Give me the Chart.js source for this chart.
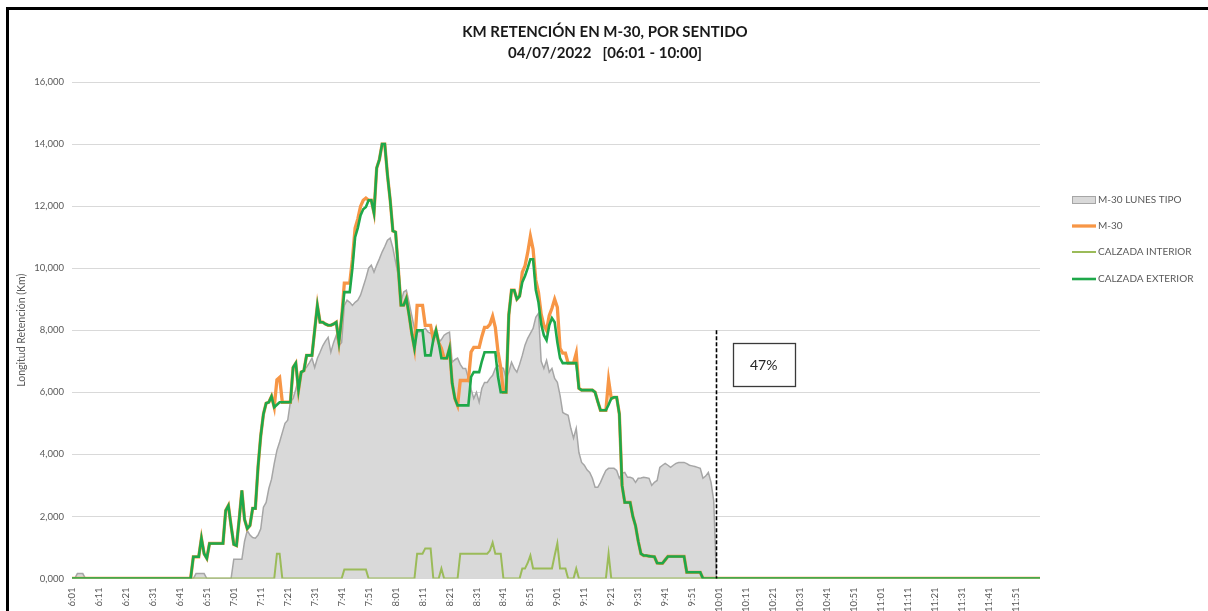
<!DOCTYPE html>
<html><head><meta charset="utf-8">
<script src="https://cdn.jsdelivr.net/npm/chart.js@4.4.1/dist/chart.umd.min.js"></script>
<style>
html,body{margin:0;padding:0;background:#fff;overflow:hidden;}
#wrap{position:relative;width:1208px;height:640px;}
#frame{position:absolute;left:6px;top:7px;right:0;bottom:0;border-top:3px solid #000;border-left:3px solid #000;pointer-events:none;}
canvas{display:block;}
</style></head><body>
<div id="wrap"><canvas id="c" width="1208" height="640" style="width:1208px;height:640px"></canvas><div id="frame"></div></div>
<script>
// ---------- DATA ----------
const titleLines = ['KM RETENCIÓN EN M-30, POR SENTIDO', '04/07/2022   [06:01 - 10:00]'];
const yAxisTitle = 'Longitud Retención (Km)';
const seriesNames = ['M-30 LUNES TIPO', 'M-30', 'CALZADA INTERIOR', 'CALZADA EXTERIOR'];

// one category per minute, 6:01 .. 12:00
const categories = [];
for (let m = 6 * 60 + 1; m <= 12 * 60; m++) {
  categories.push(Math.floor(m / 60) + ':' + String(m % 60).padStart(2, '0'));
}
const tickLabels = ['6:01','6:11','6:21','6:31','6:41','6:51','7:01','7:11','7:21','7:31','7:41','7:51',
  '8:01','8:11','8:21','8:31','8:41','8:51','9:01','9:11','9:21','9:31','9:41','9:51',
  '10:01','10:11','10:21','10:31','10:41','10:51','11:01','11:11','11:21','11:31','11:41','11:51'];

const lunesTipo = [
  0,0,160,160,160,0,0,0,0,0,0,0,0,0,0,0,0,0,0,0,
  0,0,0,0,0,0,0,0,0,0,0,0,0,0,0,0,0,0,0,0,
  0,0,0,0,0,0,160,160,160,160,0,0,0,0,0,0,0,0,0,0,
  620,620,620,620,1200,1550,1400,1320,1300,1400,1600,2300,2450,2900,3200,3700,4130,4400,4700,5000,
  5100,5700,5800,6100,6450,6600,6700,6810,6950,7100,6800,7100,7290,7500,7650,7770,7290,7600,7840,7500,
  7610,8800,8970,8900,8800,8900,8970,9130,9400,9680,10000,10100,9870,10100,10300,10520,10700,10900,10970,10650,
  10200,9780,8900,9230,9290,8900,8480,8060,7940,7950,8000,8060,7950,7900,7940,7800,7610,7700,7840,7900,
  7940,6970,7050,7100,6900,6770,6770,6450,6100,5800,6000,5680,6130,6320,6320,6450,6550,6770,6870,6800,
  6770,6450,6650,6970,6770,6650,6900,7190,7520,7740,7900,8060,8420,8550,7000,6770,7030,6650,6770,6450,
  6320,5900,5350,5300,5260,4840,4520,4840,4060,3740,3650,3500,3420,3230,2940,2940,3100,3300,3480,3550,
  3550,3550,3480,3230,3390,3420,3260,3260,3230,3100,3230,3240,3260,3250,3230,3000,3100,3160,3580,3650,
  3710,3650,3580,3650,3710,3740,3740,3740,3700,3650,3630,3610,3580,3550,3230,3300,3420,3100,2500,0,
  null,null,null,null,null,null,null,null,null,null,null,null,null,null,null,null,null,null,null,null,
  null,null,null,null,null,null,null,null,null,null,null,null,null,null,null,null,null,null,null,null,
  null,null,null,null,null,null,null,null,null,null,null,null,null,null,null,null,null,null,null,null,
  null,null,null,null,null,null,null,null,null,null,null,null,null,null,null,null,null,null,null,null,
  null,null,null,null,null,null,null,null,null,null,null,null,null,null,null,null,null,null,null,null,
  null,null,null,null,null,null,null,null,null,null,null,null,null,null,null,null,null,null,null,null
];

const m30 = [
  0,0,0,0,0,0,0,0,0,0,0,0,0,0,0,0,0,0,0,0,
  0,0,0,0,0,0,0,0,0,0,0,0,0,0,0,0,0,0,0,0,
  0,0,0,0,0,700,700,700,1300,800,650,1130,1130,1130,1130,1130,1130,2190,2350,1700,
  1100,1060,1900,2840,1900,1610,1710,2260,2260,3600,4600,5300,5650,5680,5870,5520,6400,6480,5680,5680,
  5680,5680,6800,6940,6070,6650,6700,7190,7190,7190,8000,8800,8260,8260,8200,8160,8160,8200,8260,7610,
  8400,9520,9520,9520,10290,11290,11590,11990,12190,12260,12190,12190,11780,13230,13500,14000,14000,13000,12200,11200,
  11160,10000,8810,8810,9030,8500,7900,7420,8800,8800,8800,8160,8160,8160,7700,8000,7600,7420,7100,7100,
  7420,6290,5800,5580,6380,6380,6380,6380,7300,7450,7450,7450,7800,8090,8090,8190,8450,8090,7300,6800,
  6000,6000,8500,9290,9290,9000,9100,9870,10070,10500,11030,10610,9620,9220,8520,8160,8000,8480,8710,9000,
  8740,7420,7260,7260,6940,6940,6940,7260,6130,6070,6070,6070,6070,6070,6000,5700,5420,5420,5420,6400,
  5800,5840,5840,5300,3000,2450,2450,2450,2000,1700,1200,800,740,740,720,710,700,500,490,490,
  600,710,710,710,710,710,710,710,200,200,200,200,200,200,0,0,0,0,0,0,
  0,0,0,0,0,0,0,0,0,0,0,0,0,0,0,0,0,0,0,0,
  0,0,0,0,0,0,0,0,0,0,0,0,0,0,0,0,0,0,0,0,
  0,0,0,0,0,0,0,0,0,0,0,0,0,0,0,0,0,0,0,0,
  0,0,0,0,0,0,0,0,0,0,0,0,0,0,0,0,0,0,0,0,
  0,0,0,0,0,0,0,0,0,0,0,0,0,0,0,0,0,0,0,0,
  0,0,0,0,0,0,0,0,0,0,0,0,0,0,0,0,0,0,0,0
];

const calzadaInterior = [
  0,0,0,0,0,0,0,0,0,0,0,0,0,0,0,0,0,0,0,0,
  0,0,0,0,0,0,0,0,0,0,0,0,0,0,0,0,0,0,0,0,
  0,0,0,0,0,0,0,0,0,0,0,0,0,0,0,0,0,0,0,0,
  0,0,0,0,0,0,0,0,0,0,0,0,0,0,0,0,800,800,0,0,
  0,0,0,0,0,0,0,0,0,0,0,0,0,0,0,0,0,0,0,0,
  0,290,290,290,290,290,290,290,290,290,0,0,0,0,0,0,0,0,0,0,
  0,0,0,0,0,0,0,0,800,800,800,970,970,970,0,0,0,320,0,0,
  0,0,0,0,800,800,800,800,800,800,800,800,800,800,800,900,1160,800,800,800,
  0,0,0,0,0,0,0,320,320,500,740,320,320,320,320,320,320,320,320,740,
  1130,320,320,320,0,0,0,320,0,0,0,0,0,0,0,0,0,0,0,800,
  0,0,0,0,0,0,0,0,0,0,0,0,0,0,0,0,0,0,0,0,
  0,0,0,0,0,0,0,0,0,0,0,0,0,0,0,0,0,0,0,0,
  0,0,0,0,0,0,0,0,0,0,0,0,0,0,0,0,0,0,0,0,
  0,0,0,0,0,0,0,0,0,0,0,0,0,0,0,0,0,0,0,0,
  0,0,0,0,0,0,0,0,0,0,0,0,0,0,0,0,0,0,0,0,
  0,0,0,0,0,0,0,0,0,0,0,0,0,0,0,0,0,0,0,0,
  0,0,0,0,0,0,0,0,0,0,0,0,0,0,0,0,0,0,0,0,
  0,0,0,0,0,0,0,0,0,0,0,0,0,0,0,0,0,0,0,0
];

const calzadaExterior = [
  0,0,0,0,0,0,0,0,0,0,0,0,0,0,0,0,0,0,0,0,
  0,0,0,0,0,0,0,0,0,0,0,0,0,0,0,0,0,0,0,0,
  0,0,0,0,0,700,700,700,1300,800,650,1130,1130,1130,1130,1130,1130,2190,2350,1700,
  1100,1060,1900,2840,1900,1610,1710,2260,2260,3600,4600,5300,5650,5680,5870,5520,5600,5680,5680,5680,
  5680,5680,6800,6940,6070,6650,6700,7190,7190,7190,8000,8800,8260,8260,8200,8160,8160,8200,8260,7610,
  8400,9230,9230,9230,10000,11000,11300,11700,11900,11970,12190,12190,11780,13230,13500,14000,14000,13000,12200,11200,
  11160,10000,8810,8810,9030,8500,7900,7420,8000,8000,8000,7190,7190,7190,7700,8000,7600,7100,7100,7100,
  7420,6290,5800,5580,5580,5580,5580,5580,6500,6650,6650,6650,7000,7290,7290,7290,7290,7290,6500,6000,
  6000,6000,8500,9290,9290,9000,9100,9550,9750,10000,10290,10290,9300,8900,8200,7840,7680,8160,8390,8260,
  7610,7100,6940,6940,6940,6940,6940,6940,6130,6070,6070,6070,6070,6070,6000,5700,5420,5420,5420,5600,
  5800,5840,5840,5300,3000,2450,2450,2450,2000,1700,1200,800,740,740,720,710,700,500,490,490,
  600,710,710,710,710,710,710,710,200,200,200,200,200,200,0,0,0,0,0,0,
  0,0,0,0,0,0,0,0,0,0,0,0,0,0,0,0,0,0,0,0,
  0,0,0,0,0,0,0,0,0,0,0,0,0,0,0,0,0,0,0,0,
  0,0,0,0,0,0,0,0,0,0,0,0,0,0,0,0,0,0,0,0,
  0,0,0,0,0,0,0,0,0,0,0,0,0,0,0,0,0,0,0,0,
  0,0,0,0,0,0,0,0,0,0,0,0,0,0,0,0,0,0,0,0,
  0,0,0,0,0,0,0,0,0,0,0,0,0,0,0,0,0,0,0,0
];

// annotation: vertical dashed line at 10:00 and the "47%" note
const markerTime = '10:00';
const markerTop = 8000;
const noteText = '47%';
const noteFrom = '10:06', noteTo = '10:29';
const noteTop = 7600, noteBottom = 6200;

// ---------- STYLE ----------
const FONT = 'Lato, "Open Sans", "Liberation Sans", sans-serif';
const TXT = '#595959';
const colors = {
  areaFill: '#d9d9d9', areaLine: '#a6a6a6',
  m30: '#f79646', interior: '#9bbb59', exterior: '#1ea84a'
};

const decor = {
  id: 'decor',
  afterDatasetsDraw(chart) {
    const ctx = chart.ctx, xs = chart.scales.x, ys = chart.scales.y;
    ctx.save();
    const mx = Math.round(xs.getPixelForValue(categories.indexOf(markerTime))) + 0.5;
    ctx.strokeStyle = '#000'; ctx.lineWidth = 1.6; ctx.setLineDash([4, 2]);
    ctx.beginPath();
    ctx.moveTo(mx, ys.getPixelForValue(markerTop));
    ctx.lineTo(mx, ys.getPixelForValue(0));
    ctx.stroke();
    ctx.setLineDash([]);
    const bx1 = xs.getPixelForValue(categories.indexOf(noteFrom));
    const bx2 = xs.getPixelForValue(categories.indexOf(noteTo));
    const by1 = ys.getPixelForValue(noteTop), by2 = ys.getPixelForValue(noteBottom);
    ctx.fillStyle = '#fff';
    ctx.fillRect(bx1, by1, bx2 - bx1, by2 - by1);
    ctx.strokeStyle = '#3a3a3a'; ctx.lineWidth = 1.3;
    ctx.strokeRect(Math.round(bx1) + 0.5, Math.round(by1) + 0.5, Math.round(bx2 - bx1), Math.round(by2 - by1));
    ctx.fillStyle = '#262626'; ctx.font = '14px ' + FONT;
    ctx.textAlign = 'center'; ctx.textBaseline = 'middle';
    ctx.fillText(noteText, (bx1 + bx2) / 2, (by1 + by2) / 2 + 1);
    ctx.restore();
  },
  afterDraw(chart) {
    const ctx = chart.ctx;
    ctx.save();
    ctx.fillStyle = '#1a1a1a';
    ctx.font = 'bold 15px ' + FONT;
    ctx.textAlign = 'center'; ctx.textBaseline = 'middle';
    ctx.fillText(titleLines[0], 605, 32);
    ctx.fillText(titleLines[1], 605, 53);
    const rows = [200, 226, 252, 279];
    chart.data.datasets.forEach((ds, i) => {
      const yy = rows[i];
      if (i === 0) {
        ctx.fillStyle = ds.backgroundColor;
        ctx.fillRect(1072, yy - 4, 24, 8);
        ctx.strokeStyle = ds.borderColor; ctx.lineWidth = 1;
        ctx.strokeRect(1072.5, yy - 3.5, 23, 7);
      } else {
        ctx.strokeStyle = ds.borderColor; ctx.lineWidth = ds.borderWidth;
        ctx.beginPath(); ctx.moveTo(1072, yy); ctx.lineTo(1096, yy); ctx.stroke();
      }
      ctx.fillStyle = TXT; ctx.font = '10px ' + FONT;
      ctx.textAlign = 'left'; ctx.textBaseline = 'middle';
      ctx.fillText(ds.label, 1098, yy);
    });
    ctx.restore();
  }
};

new Chart(document.getElementById('c'), {
  type: 'line',
  data: {
    labels: categories,
    datasets: [
      { label: seriesNames[0], data: lunesTipo, fill: 'origin', backgroundColor: colors.areaFill,
        borderColor: colors.areaLine, borderWidth: 1.5, pointRadius: 0, order: 4, tension: 0 },
      { label: seriesNames[1], data: m30, fill: false, borderColor: colors.m30,
        borderWidth: 3.3, pointRadius: 0, order: 3, tension: 0 },
      { label: seriesNames[2], data: calzadaInterior, fill: false, borderColor: colors.interior,
        borderWidth: 2, pointRadius: 0, order: 2, tension: 0 },
      { label: seriesNames[3], data: calzadaExterior, fill: false, borderColor: colors.exterior,
        borderWidth: 2.6, pointRadius: 0, order: 1, tension: 0 }
    ]
  },
  options: {
    responsive: false, animation: false, events: [],
    devicePixelRatio: 1,
    layout: { padding: { left: 13, right: 168, top: 82, bottom: 0 } },
    plugins: { legend: { display: false }, title: { display: false }, tooltip: { enabled: false } },
    scales: {
      x: {
        type: 'category',
        grid: { display: false },
        border: { display: false },
        afterFit(scale) { scale.height = 61.5; },
        ticks: {
          autoSkip: false, minRotation: 90, maxRotation: 90, padding: 1,
          color: TXT, font: { family: FONT, size: 9.5 },
          callback(val, idx) { const l = categories[idx]; return tickLabels.includes(l) ? l : ''; }
        }
      },
      y: {
        min: 0, max: 16000,
        grid: { color: '#d9d9d9', lineWidth: 1, drawTicks: false },
        border: { display: false },
        afterFit(scale) { scale.width = 59; },
        title: { display: true, text: yAxisTitle, color: TXT, font: { family: FONT, size: 10.5 }, padding: { top: 2, bottom: 0 } },
        ticks: {
          stepSize: 2000, padding: 8, color: TXT, font: { family: FONT, size: 9.5 },
          callback(v) { return Math.floor(v / 1000) + ',' + String(v % 1000).padStart(3, '0'); }
        }
      }
    }
  },
  plugins: [decor]
});
</script>
</body></html>
